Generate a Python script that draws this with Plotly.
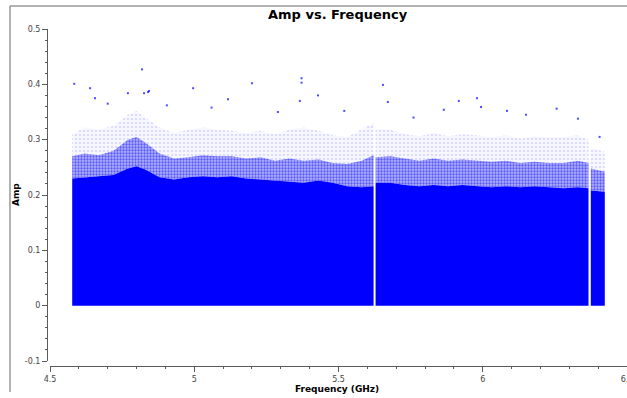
import plotly.graph_objects as go

# ---- data ----
freq = [4.577, 4.62, 4.67, 4.72, 4.77, 4.80, 4.83, 4.88, 4.93, 4.98, 5.03, 5.08,
        5.13, 5.18, 5.23, 5.28, 5.33, 5.38, 5.43, 5.48, 5.53, 5.58, 5.6216,
        5.6285, 5.68, 5.73, 5.78, 5.83, 5.88, 5.93, 5.98, 6.03, 6.08, 6.13,
        6.18, 6.23, 6.28, 6.33, 6.3666,
        6.3745, 6.40, 6.423]
# amplitude where the point cloud is fully solid
solid_top = [0.230, 0.232, 0.234, 0.236, 0.248, 0.252, 0.246, 0.232, 0.228, 0.232, 0.234, 0.232,
             0.234, 0.230, 0.228, 0.226, 0.224, 0.222, 0.226, 0.222, 0.216, 0.214, 0.216,
             0.222, 0.222, 0.218, 0.216, 0.218, 0.216, 0.218, 0.216, 0.214, 0.216, 0.214,
             0.216, 0.214, 0.212, 0.214, 0.212,
             0.208, 0.207, 0.206]
# amplitude where the cloud is about half filled
dense_top = [0.270, 0.275, 0.272, 0.280, 0.300, 0.305, 0.295, 0.275, 0.266, 0.268, 0.272, 0.270,
             0.270, 0.266, 0.268, 0.262, 0.266, 0.262, 0.264, 0.258, 0.256, 0.262, 0.272,
             0.268, 0.270, 0.266, 0.262, 0.266, 0.262, 0.264, 0.262, 0.260, 0.262, 0.258,
             0.260, 0.258, 0.258, 0.262, 0.258,
             0.248, 0.245, 0.242]
# amplitude where stray points become rare
sparse_top = [0.310, 0.322, 0.318, 0.325, 0.345, 0.352, 0.340, 0.322, 0.312, 0.318, 0.322, 0.318,
              0.316, 0.312, 0.316, 0.310, 0.318, 0.322, 0.316, 0.308, 0.305, 0.318, 0.330,
              0.320, 0.318, 0.310, 0.306, 0.312, 0.306, 0.310, 0.308, 0.304, 0.308, 0.302,
              0.306, 0.304, 0.305, 0.308, 0.300,
              0.285, 0.282, 0.278]
gap_centres = [5.625, 6.370]

# isolated high points
out_freq = [4.584, 4.639, 4.656, 4.770, 4.819, 4.826, 4.840, 4.843, 4.996, 5.117,
            5.200, 5.366, 5.372, 5.372, 5.429, 5.654, 5.671, 5.865, 5.917, 5.980,
            5.994, 6.084, 6.256, 4.700, 4.905, 5.060, 5.290, 5.520, 5.760, 6.150,
            6.330, 6.405]
out_amp = [0.401, 0.393, 0.375, 0.384, 0.427, 0.384, 0.386, 0.388, 0.393, 0.373,
           0.402, 0.370, 0.411, 0.403, 0.380, 0.399, 0.368, 0.354, 0.370, 0.375,
           0.359, 0.352, 0.356, 0.365, 0.362, 0.358, 0.350, 0.352, 0.340, 0.345,
           0.338, 0.305]

x_ticks = [4.5, 5, 5.5, 6, 6.5]
x_tick_text = ["4.5", "5", "5.5", "6", "6.5"]
y_ticks = [-0.1, 0, 0.1, 0.2, 0.3, 0.4, 0.5]
y_tick_text = ["-0.1", "0", "0.1", "0.2", "0.3", "0.4", "0.5"]

# ---- figure ----
W, H = 627, 398
BLUE = "#0000ff"
AXC = "#5a5a5a"


def segments():
    bounds = [float("-inf")] + gap_centres + [float("inf")]
    segs = []
    for lo, hi in zip(bounds[:-1], bounds[1:]):
        segs.append([i for i, f in enumerate(freq) if lo < f < hi])
    return segs


def band(lower, upper):
    xs, ys = [], []
    for idx in segments():
        fx = [freq[i] for i in idx]
        top = [upper[i] for i in idx]
        bot = [0.0] * len(idx) if lower is None else [lower[i] for i in idx]
        xs += fx + fx[::-1] + [None]
        ys += top + bot[::-1] + [None]
    return xs, ys


fig = go.Figure()
layers = [
    (dense_top, sparse_top, "rgba(0,0,255,0.03)",
     dict(shape=".", fgcolor="rgba(0,0,255,0.6)", bgcolor="rgba(0,0,255,0.03)",
          size=4, solidity=0.1)),
    (solid_top, dense_top, "rgba(0,0,255,0.3)",
     dict(shape=".", fgcolor=BLUE, bgcolor="rgba(0,0,255,0.3)",
          size=3, solidity=0.45)),
    (None, solid_top, BLUE, None),
]
for lower, upper, col, pat in layers:
    bx, by = band(lower, upper)
    kw = dict(fillpattern=pat) if pat else {}
    fig.add_trace(go.Scatter(x=bx, y=by, mode="lines", fill="toself",
                             fillcolor=col, line=dict(width=0), hoverinfo="skip",
                             showlegend=False, **kw))

fig.add_trace(go.Scatter(x=out_freq, y=out_amp, mode="markers",
                         marker=dict(color=BLUE, size=2, symbol="square", opacity=0.7,
                                     line=dict(width=0)),
                         showlegend=False))

tickfont = dict(family="DejaVu Sans", size=8, color="#444")
fig.update_layout(
    width=W, height=H, margin=dict(l=0, r=0, t=0, b=0, autoexpand=False),
    paper_bgcolor="white", plot_bgcolor="white",
    xaxis=dict(domain=[50 / W, 1], range=[4.5, 6.5], anchor="free",
               position=(H - 366) / H, showgrid=False, zeroline=False,
               automargin=False, ticklabeloverflow="allow",
               showline=True, linecolor=AXC, linewidth=1,
               tickmode="array", tickvals=x_ticks, ticktext=x_tick_text,
               ticks="outside", ticklen=5, tickcolor=AXC, tickfont=tickfont,
               minor=dict(dtick=0.1, ticks="outside", ticklen=2, tickcolor=AXC,
                          showgrid=False)),
    yaxis=dict(domain=[(H - 361) / H, (H - 29) / H], range=[-0.1, 0.5],
               anchor="free", position=47 / W, showgrid=False, zeroline=False,
               automargin=False,
               showline=True, linecolor=AXC, linewidth=1,
               tickmode="array", tickvals=y_ticks, ticktext=y_tick_text,
               ticks="outside", ticklen=5, tickcolor=AXC, tickfont=tickfont,
               minor=dict(dtick=0.02, ticks="outside", ticklen=2, tickcolor=AXC,
                          showgrid=False)),
    annotations=[
        dict(text="<b>Amp vs. Frequency</b>", xref="paper", yref="paper",
             x=338 / W, y=(H - 14) / H, showarrow=False,
             font=dict(family="DejaVu Sans", size=13, color="black"),
             xanchor="center", yanchor="middle"),
        dict(text="<b>Frequency (GHz)</b>", xref="paper", yref="paper",
             x=337 / W, y=(H - 388.5) / H, showarrow=False,
             font=dict(family="DejaVu Sans", size=9, color="black"),
             xanchor="center", yanchor="middle"),
        dict(text="<b>Amp</b>", xref="paper", yref="paper", textangle=-90,
             x=16 / W, y=(H - 195) / H, showarrow=False,
             font=dict(family="DejaVu Sans", size=9, color="black"),
             xanchor="center", yanchor="middle"),
    ],
    shapes=[
        dict(type="line", xref="paper", yref="paper", x0=10 / W, x1=1.01,
             y0=(H - 6) / H, y1=(H - 6) / H, line=dict(color="#666", width=1)),
        dict(type="line", xref="paper", yref="paper", x0=10 / W, x1=10 / W,
             y0=(H - 392) / H, y1=(H - 6) / H, line=dict(color="#666", width=1)),
    ],
)

fig.write_html("out.html")
